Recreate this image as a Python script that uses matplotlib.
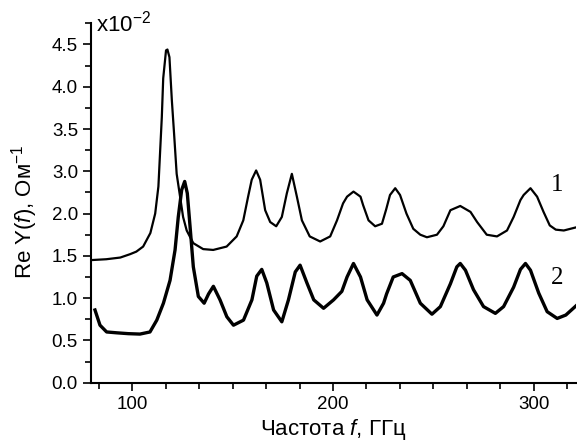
import matplotlib
matplotlib.use("Agg")
import matplotlib.pyplot as plt
from matplotlib.ticker import MultipleLocator

plt.rcParams['font.family'] = ['Liberation Sans', 'DejaVu Sans']
plt.rcParams['mathtext.fontset'] = 'custom'
plt.rcParams['mathtext.rm'] = 'Liberation Sans'
plt.rcParams['mathtext.it'] = 'Liberation Sans:italic'

# frequency, GHz
f1 = [79.5, 87, 94, 98.9, 102, 105.4, 109, 111.4, 113, 114.7, 115.4, 116.8, 117.5,
      118.5, 119.7, 120.8, 122.1, 123.8, 125.3, 127.1, 130.4, 135.3, 140.3, 147,
      152, 155.3, 157.7, 159.5, 161.7, 163.7, 166.2, 168.7, 171.7, 174.5, 177,
      179.5, 182, 184.5, 188.4, 193.6, 198.6, 202, 205, 207, 210.2, 213.7, 215,
      217.7, 221, 224.4, 226.5, 228.4, 231, 233.4, 236.6, 240, 243.5, 246.8,
      251.8, 255, 258.5, 263.4, 268.5, 271.8, 276.6, 281.7, 286.7, 290, 293.4,
      295, 298.4, 301.7, 304.9, 308, 311, 315, 321.6]
# curve 1, in axis units (the axis labels skip 2.5)
y1 = [1.45, 1.46, 1.48, 1.52, 1.55, 1.61, 1.77, 2.0, 2.32, 3.14, 3.6, 3.93, 3.94,
      3.85, 3.34, 2.95, 2.47, 2.2, 1.96, 1.8, 1.65, 1.58, 1.57, 1.61,
      1.73, 1.92, 2.2, 2.4, 2.51, 2.4, 2.04, 1.9, 1.85, 1.96, 2.24,
      2.47, 2.2, 1.92, 1.73, 1.67, 1.73, 1.92, 2.12, 2.2, 2.26, 2.2, 2.1,
      1.92, 1.85, 1.88, 2.05, 2.22, 2.3, 2.22, 2.0, 1.82, 1.75, 1.72,
      1.75, 1.85, 2.04, 2.09, 2.02, 1.9, 1.75, 1.73, 1.8, 1.96, 2.16,
      2.22, 2.3, 2.2, 2.02, 1.86, 1.81, 1.8, 1.84]

f2 = [81.4, 83.9, 87.2, 92.2, 98, 103.8, 108.8, 112.2, 115.5, 118.8, 121.3, 122.9,
      124.6, 126.1, 127.4, 128.8, 130.4, 132.9, 135.8, 138, 140.4, 143.7, 147.1,
      150.4, 155.4, 159.6, 162, 164.5, 167, 170.4, 174.5, 177.8, 181.2, 183.6,
      187, 190.4, 195.3, 200.3, 204.4, 207, 210.2, 213.7, 217, 221.9, 225.2,
      226.7, 230, 234.4, 238.5, 243.5, 249.3, 253.5, 258.5, 261.7, 263.4, 266,
      270, 275, 280.9, 285, 290, 293.4, 295.9, 298.4, 302.5, 306.7, 311.7, 316,
      321.6]
y2 = [0.86, 0.68, 0.6, 0.59, 0.58, 0.575, 0.6, 0.74, 0.94, 1.21, 1.57, 1.96,
      2.28, 2.38, 2.24, 1.84, 1.37, 1.02, 0.94, 1.05, 1.14, 0.98, 0.78,
      0.68, 0.74, 0.98, 1.26, 1.34, 1.18, 0.86, 0.72, 0.98, 1.31, 1.39,
      1.18, 0.98, 0.88, 0.98, 1.08, 1.25, 1.41, 1.25, 0.98, 0.8, 0.94,
      1.05, 1.25, 1.29, 1.21, 0.94, 0.81, 0.9, 1.17, 1.37, 1.41, 1.33,
      1.1, 0.9, 0.82, 0.9, 1.13, 1.34, 1.41, 1.33, 1.06, 0.84, 0.76, 0.8,
      0.92]

ytick_pos = [0, 0.5, 1.0, 1.5, 2.0, 2.5, 3.0, 3.5, 4.0]
ytick_labels = ['0.0', '0.5', '1.0', '1.5', '2.0', '3.0', '3.5', '4.0', '4.5']

fig = plt.figure(figsize=(5.77, 4.45), dpi=100)
ax = fig.add_axes([0.158, 0.14, 0.84, 0.8076])

ax.plot(f1, y1, color='black', lw=1.6)
ax.plot(f2, y2, color='black', lw=2.4)

ax.set_xlim(79.5, 321)
ax.set_ylim(0, 4.25)
ax.xaxis.set_major_locator(MultipleLocator(100))
ax.xaxis.set_minor_locator(MultipleLocator(100 / 6))
ax.set_yticks(ytick_pos)
ax.set_yticklabels(ytick_labels)
ax.yaxis.set_minor_locator(MultipleLocator(0.25))

for s in ['top', 'right']:
    ax.spines[s].set_visible(False)
for s in ['left', 'bottom']:
    ax.spines[s].set_linewidth(1.5)
ax.tick_params(which='major', direction='out', length=5.5, width=1.2, labelsize=13.5, pad=4)
ax.tick_params(which='minor', direction='out', length=4, width=1.2)
ax.tick_params(axis='y', which='major', pad=4)

ax.set_xlabel(r'Частота $\it{f}$, ГГц', fontsize=16, labelpad=3)
ax.set_ylabel(r'Re Y($\it{f}$), Ом$^{-1}$', fontsize=16)
ax.yaxis.set_label_coords(-0.105, 0.475)
ax.text(0.01, 1.0, r'x10$^{-2}$', transform=ax.transAxes, fontsize=16, va='center', ha='left')

ax.text(311.8, 2.34, '1', family='Liberation Serif', fontsize=18, ha='center', va='center')
ax.text(311.8, 1.24, '2', family='Liberation Serif', fontsize=18, ha='center', va='center')

fig.savefig('out.png', dpi=100)
